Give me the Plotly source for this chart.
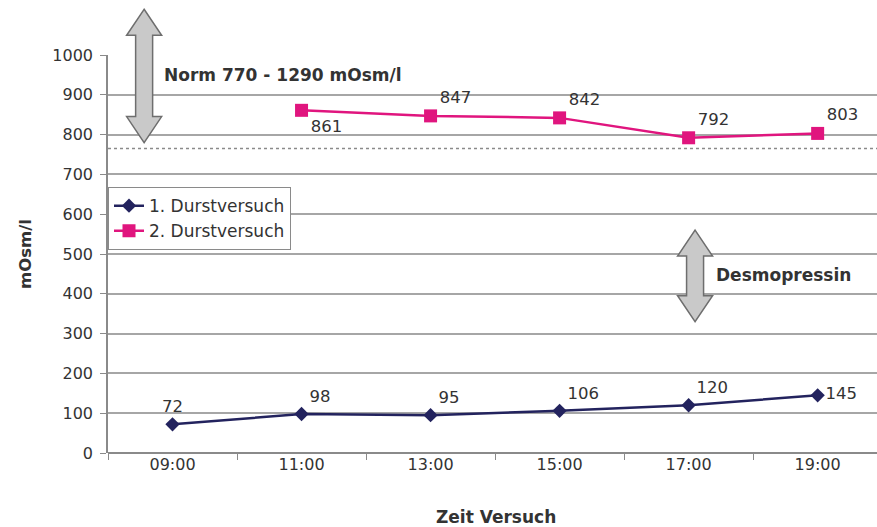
import plotly.graph_objects as go

# ---- data ----
times = ["09:00", "11:00", "13:00", "15:00", "17:00", "19:00"]
durst1 = [72, 98, 95, 106, 120, 145]
durst2_times = ["11:00", "13:00", "15:00", "17:00", "19:00"]
durst2 = [861, 847, 842, 792, 803]
norm_low = 765
y_ticks = [0, 100, 200, 300, 400, 500, 600, 700, 800, 900, 1000]

# ---- layout geometry ----
W, H = 877, 527
ml, mr, mt, mb = 108, 0, 55, 74
pw, ph = W - ml - mr, H - mt - mb
xr = [-0.5, 5.46]
yr = [0, 1000]
FONT = "DejaVu Sans, Arial"
TXT = "#333333"

def to_paper(xv, yv):
    return ((xv - xr[0]) / (xr[1] - xr[0]), (yv - yr[0]) / (yr[1] - yr[0]))

def arrow_path(xc, ytop, ybot, shaft=17, head=35, hh=26):
    cx, t = to_paper(xc, ytop)
    _, b = to_paper(xc, ybot)
    s = shaft / 2 / pw
    hw = head / 2 / pw
    h = hh / ph
    pts = [(cx, t), (cx + hw, t - h), (cx + s, t - h), (cx + s, b + h), (cx + hw, b + h),
           (cx, b), (cx - hw, b + h), (cx - s, b + h), (cx - s, t - h), (cx - hw, t - h)]
    return "M " + " L ".join(f"{x:.5f},{y:.5f}" for x, y in pts) + " Z"

fig = go.Figure()

fig.add_trace(go.Scatter(
    x=times, y=durst1, name="1. Durstversuch",
    mode="lines+markers+text",
    line=dict(color="#23235e", width=2.5),
    marker=dict(symbol="diamond", size=11, color="#23235e"),
    text=[str(v) for v in durst1],
    textposition=["top center", "top right", "top right", "top right", "top right", "middle right"],
    textfont=dict(family=FONT, size=16.5, color=TXT),
    cliponaxis=False,
))
fig.add_trace(go.Scatter(
    x=durst2_times, y=durst2, name="2. Durstversuch",
    mode="lines+markers+text",
    line=dict(color="#e0157e", width=2.5),
    marker=dict(symbol="square", size=13, color="#e0157e"),
    text=[str(v) for v in durst2],
    textposition=["bottom right", "top right", "top right", "top right", "top right"],
    textfont=dict(family=FONT, size=16.5, color=TXT),
    cliponaxis=False,
))

shapes = [
    dict(type="line", xref="paper", yref="y", x0=0, x1=1, y0=norm_low, y1=norm_low,
         line=dict(color="#8a8a8a", width=1.5, dash="dot"), layer="below"),
    dict(type="path", xref="paper", yref="paper", path=arrow_path(-0.22, 1115, 780),
         fillcolor="#c9c9c9", line=dict(color="#6e6e6e", width=1.5)),
    dict(type="path", xref="paper", yref="paper", path=arrow_path(4.05, 560, 330),
         fillcolor="#c9c9c9", line=dict(color="#6e6e6e", width=1.5)),
]

annotations = [
    dict(text="<b>Norm 770 - 1290 mOsm/l</b>", xref="x", yref="y", x=-0.085, y=950,
         xanchor="left", yanchor="middle", showarrow=False,
         font=dict(family=FONT, size=17, color=TXT)),
    dict(text="<b>Desmopressin</b>", xref="x", yref="y", x=4.2, y=447,
         xanchor="left", yanchor="middle", showarrow=False,
         font=dict(family=FONT, size=17, color=TXT)),
    dict(text="<b>mOsm/l</b>", xref="paper", yref="paper", x=-0.108, y=0.5,
         xanchor="center", yanchor="middle", showarrow=False, textangle=-90,
         font=dict(family=FONT, size=16.5, color=TXT)),
    dict(text="<b>Zeit Versuch</b>", xref="paper", yref="paper", x=0.505, y=-0.161,
         xanchor="center", yanchor="middle", showarrow=False,
         font=dict(family=FONT, size=17, color=TXT)),
]

fig.update_layout(
    width=W, height=H,
    margin=dict(l=ml, r=mr, t=mt, b=mb, autoexpand=False),
    paper_bgcolor="white", plot_bgcolor="white",
    font=dict(family=FONT, size=14, color=TXT),
    showlegend=True,
    legend=dict(x=0.0, y=0.668, xanchor="left", yanchor="top",
                bgcolor="white", bordercolor="#8a8a8a", borderwidth=1,
                font=dict(family=FONT, size=17, color=TXT), tracegroupgap=0,
                itemwidth=30),
    shapes=shapes,
    annotations=annotations,
    xaxis=dict(
        type="category", categoryorder="array", categoryarray=times,
        range=xr, showgrid=False, zeroline=False, automargin=False,
        showline=False, ticks="outside", tickson="boundaries",
        ticklen=6, tickcolor="#8a8a8a",
        tickfont=dict(family=FONT, size=16, color=TXT),
    ),
    yaxis=dict(
        range=yr, tickvals=y_ticks, showgrid=True, gridcolor="#a6a6a6", gridwidth=1.5,
        zeroline=True, zerolinecolor="#8a8a8a", zerolinewidth=1.5, automargin=False,
        showline=True, linecolor="#8a8a8a", linewidth=1.5,
        ticks="outside", ticklen=6, tickcolor="#8a8a8a", ticklabelstandoff=4,
        tickfont=dict(family=FONT, size=16, color=TXT),
    ),
)

fig.write_html("out.html", config={"displayModeBar": False},
               post_script="document.body.style.margin='0';")
